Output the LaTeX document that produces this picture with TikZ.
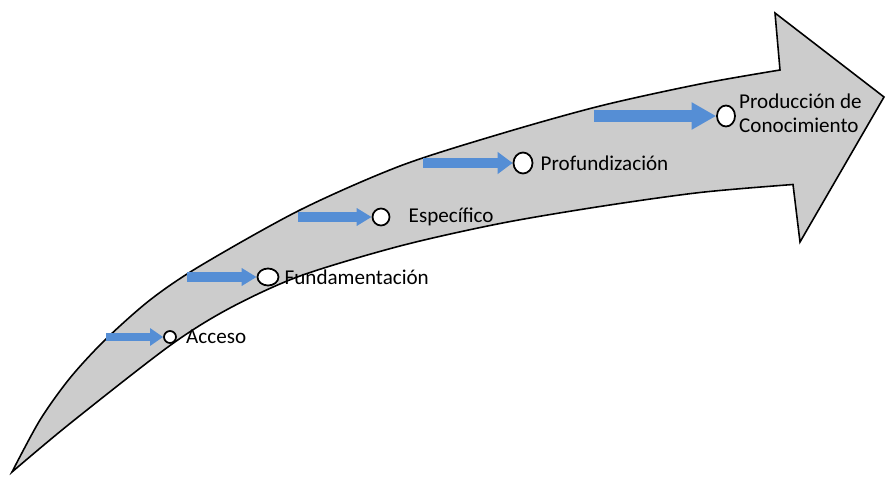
\documentclass[tikz,border=0pt]{standalone}
\usepackage{fontspec}
\setmainfont{Carlito}
\usepackage{xcolor}
\usepackage{tikz}
\usetikzlibrary{arrows.meta,shapes.geometric,positioning}

\definecolor{stageblue}{RGB}{85,142,213}
\definecolor{bodygray}{RGB}{204,204,204}
\tikzset{
  stage/.style={ellipse,draw=black,line width=1pt,fill=white,inner sep=0pt},
  push/.style n args={3}{draw=stageblue,line width=#1,-{Triangle[length=#2,width=#3]}},
  stagetext/.style={inner sep=0pt,align=left,font=\fontsize{12}{13.6}\selectfont}
}

\begin{document}
\begin{tikzpicture}
\useasboundingbox (0,0) rectangle (17.72,9.52);
% body of the big arrow
\filldraw[fill=bodygray,draw=black,line width=0.9pt]
  plot[smooth] coordinates {(0.24,0.08) (0.8,1.12) (1.4,1.96) (2.1,2.72) (3.0,3.52) (4.0,4.2) (6.0,5.32) (8.0,6.2) (10.0,6.84) (12.0,7.4) (14.0,7.84) (15.6,8.12)}
  -- (15.5,9.26) -- (17.68,7.58) -- (16.0,4.68) -- (15.86,5.83)
  -- plot[smooth] coordinates {(15.86,5.83) (14.0,5.67) (12.0,5.39) (10.0,5.05) (8.0,4.6) (6.0,4.0) (4.6,3.36) (3.4,2.61) (1.4,1.05) (0.24,0.08)}
  -- cycle;
% stages
\foreach \n/\x/\y/\w/\h/\s/\lw/\hl/\hw in {
    acceso/3.4/2.78/.24/.24/2.12/5pt/7.4pt/9.6pt,
    fund/5.36/3.98/.42/.34/3.74/5.5pt/8.5pt/9.6pt,
    espec/7.62/5.18/.34/.34/5.96/5.5pt/8.5pt/9.6pt,
    profund/10.46/6.26/.38/.42/8.46/5.7pt/8.5pt/12pt,
    produc/14.52/7.2/.36/.42/11.88/6.8pt/14pt/14.7pt}{
  \node[stage,minimum width=\w cm,minimum height=\h cm] (\n) at (\x,\y) {};
  \coordinate (\n In) at (\s,\y);
  \draw[push={\lw}{\hl}{\hw}] (\n In) -- (\n);
}
\node[stagetext,right=0.18cm of acceso] (accesoText) {Acceso};
\node[stagetext,right=0.1cm of fund] (fundText) {Fundamentación};
\node[stagetext,right=0.36cm of espec] (especText) {Específico};
\node[stagetext,right=0.14cm of profund] (profundText) {Profundización};
\node[stagetext,right=0.06cm of produc,yshift=0.06cm] (producText) {Producción de\\Conocimiento};
\end{tikzpicture}
\end{document}
